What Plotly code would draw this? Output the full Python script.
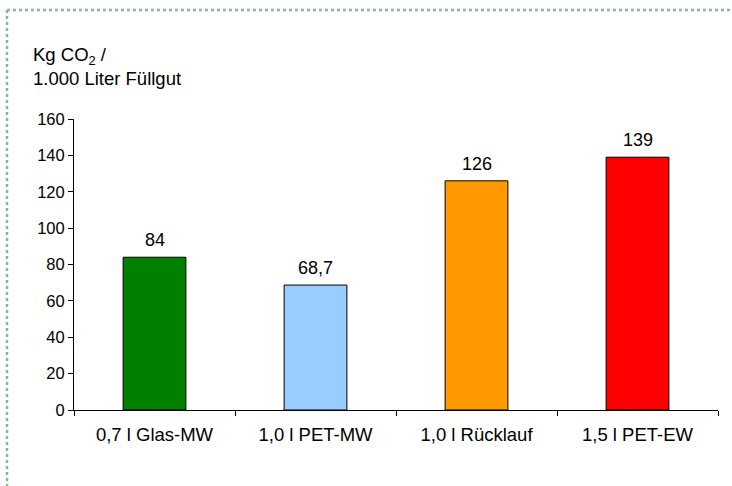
import plotly.graph_objects as go

categories = ["0,7 l Glas-MW", "1,0 l PET-MW", "1,0 l Rücklauf", "1,5 l PET-EW"]
values = [84, 68.7, 126, 139]
colors = ["#008000", "#99ccff", "#ff9900", "#ff0000"]
y_ticks = [0, 20, 40, 60, 80, 100, 120, 140, 160]

labels = [f"{v:g}".replace(".", ",") for v in values]

fig = go.Figure(go.Bar(
    x=categories, y=values, width=0.39,
    marker=dict(color=colors, line=dict(color="black", width=1)),
    hoverinfo="x+y",
))

for c, v, t in zip(categories, values, labels):
    fig.add_annotation(x=c, y=v, text=t, showarrow=False, yanchor="bottom",
                       yshift=5, font=dict(size=18, color="black"))

W, H = 732, 486
ml, mr, mt, mb = 74, 14, 119, 76
pw, ph = W - ml - mr, H - mt - mb

def px_x(x):
    return (x - ml) / pw

def px_y(y):
    return (H - mb - y) / ph

border = "#86bb96"
fig.add_shape(type="line", xref="paper", yref="paper",
              x0=px_x(7), x1=px_x(732), y0=px_y(10), y1=px_y(10),
              line=dict(color=border, width=2.5, dash="dot"))
fig.add_shape(type="line", xref="paper", yref="paper",
              x0=px_x(7), x1=px_x(7), y0=px_y(10), y1=px_y(486),
              line=dict(color=border, width=2.5, dash="dot"))

fig.add_annotation(xref="paper", yref="paper", x=px_x(31), y=px_y(42),
                   xanchor="left", yanchor="top", align="left", showarrow=False,
                   text="Kg CO<sub>2</sub> /<br>1.000 Liter Füllgut",
                   font=dict(size=18.5, color="black"))

fig.update_layout(
    width=W, height=H, margin=dict(l=ml, r=mr, t=mt, b=mb),
    plot_bgcolor="white", paper_bgcolor="white",
    font=dict(family="Liberation Sans, Arial, sans-serif", size=16, color="black"),
    separators=",.", showlegend=False,
)
fig.update_xaxes(showline=True, linecolor="black", linewidth=1, ticks="outside",
                 tickson="boundaries", ticklen=5, tickcolor="black", showgrid=False,
                 tickfont=dict(size=18.5), ticklabelstandoff=8)
fig.update_yaxes(range=[0, 160], tickvals=y_ticks, showline=True, linecolor="black",
                 linewidth=1, ticks="outside", ticklen=5, tickcolor="black",
                 showgrid=False, zeroline=False, tickfont=dict(size=16.5))

fig.write_html("out.html", config={"displayModeBar": False},
               post_script="document.body.style.margin='0';")
